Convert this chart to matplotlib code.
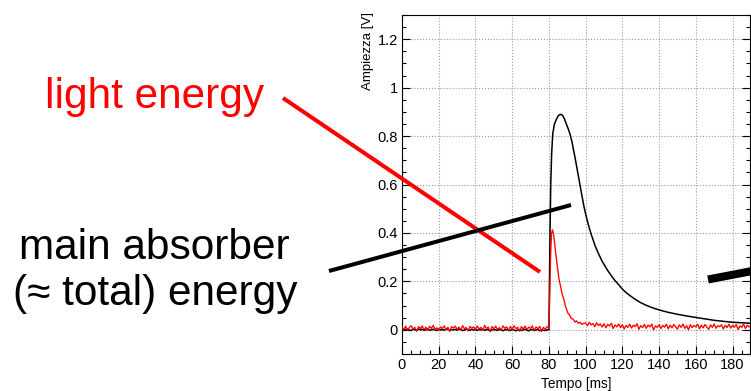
import matplotlib.pyplot as plt
import numpy as np
from matplotlib.lines import Line2D
from matplotlib.ticker import MultipleLocator

plt.rcParams['font.family'] = ['Liberation Sans', 'DejaVu Sans']

# Baseline before the trigger, 1 ms per sample (0..79 ms)
pre_time = np.arange(0, 80)
light_pre = [
    0.012, 0.001, 0.015, -0.002, 0.009, 0.017, 0.003, 0.010, -0.006, 0.013,
    0.004, 0.016, 0.000, 0.011, -0.003, 0.014, 0.006, 0.018, 0.002, 0.008,
    -0.004, 0.012, 0.005, 0.016, 0.001, 0.010, -0.007, 0.013, 0.007, 0.015,
    0.002, 0.011, -0.001, 0.017, 0.004, 0.009, -0.005, 0.014, 0.006, 0.012,
    0.000, 0.016, 0.003, 0.010, -0.003, 0.018, 0.005, 0.011, -0.008, 0.013,
    0.004, 0.015, 0.001, 0.009, -0.002, 0.016, 0.006, 0.012, -0.004, 0.014,
    0.002, 0.017, 0.005, 0.010, -0.006, 0.013, 0.003, 0.015, 0.000, 0.011,
    0.006, 0.016, -0.003, 0.012, 0.004, 0.014, -0.007, 0.010, 0.002, 0.013,
]
main_pre = [
    0.002, -0.002, 0.001, 0.003, -0.001, -0.003, 0.002, 0.000, -0.002, 0.003,
    -0.001, 0.002, -0.003, 0.001, 0.003, -0.002, 0.000, 0.002, -0.001, -0.003,
    0.003, -0.001, 0.001, -0.002, 0.002, 0.003, -0.003, 0.001, -0.001, 0.002,
    -0.002, 0.003, 0.000, -0.003, -0.001, 0.002, 0.000, -0.002, 0.002, -0.001,
    0.001, -0.003, 0.002, -0.001, 0.002, -0.002, 0.000, 0.001, -0.004, -0.001,
    0.001, 0.000, -0.003, 0.002, -0.001, -0.004, 0.000, 0.001, -0.002, -0.003,
    0.002, -0.001, -0.004, -0.001, 0.001, -0.003, 0.000, 0.002, -0.002, -0.004,
    0.000, 0.001, -0.003, -0.001, 0.002, -0.004, 0.000, -0.002, -0.003, 0.000,
]

# Light detector pulse (fast)
light_pulse_time = [80.0, 80.4, 80.9, 81.4, 81.9, 82.4, 83.0, 83.8, 84.6, 85.5,
                    86.4, 87.3, 88.2, 89.0, 89.6, 90.3, 91.0, 92.2, 93.3, 94.2,
                    95.0, 96.0, 97.0, 98.0, 99.0]
light_pulse = [0.008, 0.120, 0.300, 0.395, 0.413, 0.400, 0.365, 0.310, 0.262, 0.208,
               0.178, 0.145, 0.124, 0.097, 0.085, 0.069, 0.064, 0.047, 0.043, 0.032,
               0.037, 0.027, 0.031, 0.022, 0.027]

# Light detector tail, 1 ms per sample (100..190 ms)
light_tail_time = np.arange(100, 191)
light_tail = [
    0.028, 0.017, 0.031, 0.020, 0.026, 0.013, 0.029, 0.018, 0.024, 0.011,
    0.025, 0.008, 0.022, 0.016, 0.027, 0.005, 0.020, 0.012, 0.024, 0.009,
    0.021, 0.003, 0.018, 0.010, 0.023, 0.007, 0.019, 0.013, 0.025, 0.002,
    0.017, 0.009, 0.022, 0.006, 0.020, 0.012, 0.024, -0.001, 0.016, 0.010,
    0.021, 0.005, 0.018, 0.011, 0.023, 0.004, 0.019, 0.008, 0.022, 0.012,
    0.003, 0.020, 0.010, 0.024, 0.006, 0.017, 0.000, 0.021, 0.009, 0.018,
    0.012, 0.023, 0.004, 0.019, 0.008, 0.022, 0.011, 0.002, 0.020, 0.010,
    0.024, 0.006, 0.017, 0.013, 0.021, 0.003, 0.019, 0.009, 0.023, 0.007,
    0.018, 0.011, 0.022, 0.001, 0.016, 0.010, 0.024, 0.005, 0.019, 0.012,
    0.017,
]

# Main absorber pulse (slow)
main_pulse_time = [80.0, 80.3, 80.6, 81.0, 81.5, 82.1, 83.0, 84.3, 85.3, 86.4,
                   87.5, 88.5, 89.5, 90.5, 91.5, 92.5, 93.3, 94.2, 95.1, 96.0,
                   97.0, 98.0, 99.0, 100.0, 101.0, 102.0, 103.0, 104.0, 105.0, 106.0,
                   107.0, 108.0, 109.0, 110.0, 112.0, 114.0, 116.0, 118.0, 120.0, 122.0,
                   124.0, 126.0, 128.0, 130.0, 133.0, 136.0, 140.0, 145.0, 150.0, 155.0,
                   160.0, 165.0, 170.0, 175.0, 180.0, 185.0, 190.0]
main_pulse = [0.000, 0.200, 0.400, 0.600, 0.730, 0.810, 0.850, 0.873, 0.886, 0.890,
              0.885, 0.870, 0.850, 0.830, 0.808, 0.778, 0.748, 0.712, 0.674, 0.636,
              0.594, 0.553, 0.512, 0.478, 0.448, 0.420, 0.395, 0.372, 0.350, 0.332,
              0.314, 0.298, 0.283, 0.270, 0.245, 0.223, 0.203, 0.186, 0.168, 0.154,
              0.142, 0.131, 0.121, 0.112, 0.101, 0.092, 0.082, 0.072, 0.064, 0.057,
              0.051, 0.045, 0.039, 0.035, 0.031, 0.029, 0.027]

light_time = np.concatenate([pre_time, light_pulse_time, light_tail_time])
light_amp = np.concatenate([light_pre, light_pulse, light_tail])
main_time = np.concatenate([pre_time, main_pulse_time])
main_amp = np.concatenate([main_pre, main_pulse])

W, H = 751, 391
fig = plt.figure(figsize=(W / 100, H / 100), dpi=100)
ax = fig.add_axes([402 / W, 1 - 354 / H, 348 / W, 339 / H])

ax.plot(main_time, main_amp, color='black', lw=1.1, zorder=3)
ax.plot(light_time, light_amp, color='#ff0000', lw=0.95, zorder=4)

ax.set_xlim(0, 189.5)
ax.set_ylim(-0.1, 1.3)
ax.xaxis.set_major_locator(MultipleLocator(20))
ax.xaxis.set_minor_locator(MultipleLocator(5))
ax.yaxis.set_major_locator(MultipleLocator(0.2))
ax.yaxis.set_minor_locator(MultipleLocator(0.05))
ax.set_yticks([0, 0.2, 0.4, 0.6, 0.8, 1.0, 1.2])
ax.set_yticklabels(['0', '0.2', '0.4', '0.6', '0.8', '1', '1.2'])
ax.tick_params(which='both', direction='in', right=True, top=False,
               labelsize=10.5, pad=3, width=0.8)
ax.tick_params(which='major', length=6)
ax.tick_params(which='minor', length=3)
ax.grid(which='major', color='#9a9a9a', linestyle=':', linewidth=0.8)
for s in ax.spines.values():
    s.set_linewidth(0.8)

ax.set_xlabel('Tempo [ms]', fontsize=9.8, labelpad=3.5)
ax.set_ylabel('Ampiezza [V]', fontsize=9.5)
ax.yaxis.set_label_coords(-0.080, 1.01)
ax.yaxis.label.set_horizontalalignment('right')


def fx(x):
    return x / W


def fy(y):
    return 1 - y / H


# Pointer lines and slide labels
fig.add_artist(Line2D([fx(283), fx(540)], [fy(98), fy(272)], color='#ff0000',
                      lw=2.9, solid_capstyle='butt', zorder=10))
fig.add_artist(Line2D([fx(329), fx(571)], [fy(271), fy(205)], color='black',
                      lw=2.9, solid_capstyle='butt', zorder=10))
fig.add_artist(Line2D([fx(708), fx(760)], [fy(279.5), fy(269.5)], color='black',
                      lw=5.8, solid_capstyle='butt', zorder=10))

fig.text(fx(155), fy(108), 'light energy', color='#ff0000', fontsize=30.5,
         ha='center', va='baseline')
fig.text(fx(154), fy(259), 'main absorber', color='black', fontsize=30.5,
         ha='center', va='baseline')
fig.text(fx(155), fy(305), '(≈ total) energy', color='black', fontsize=30.5,
         ha='center', va='baseline')

fig.savefig('out.png', dpi=100)
